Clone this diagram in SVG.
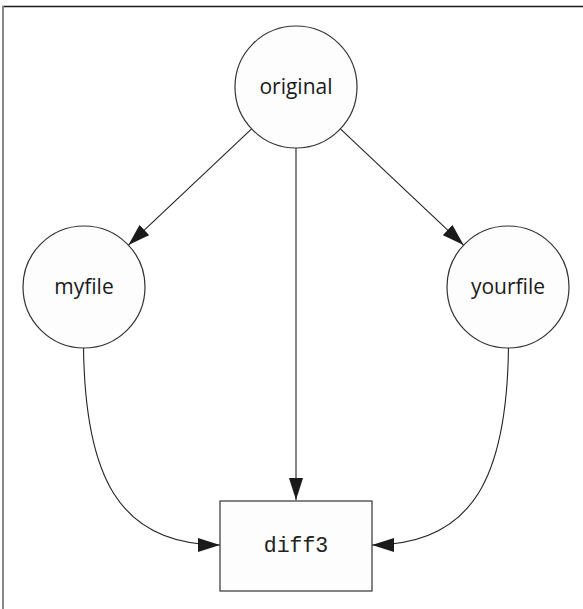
<svg xmlns="http://www.w3.org/2000/svg" width="583" height="609" viewBox="0 0 583 609">
<style>
.node{fill:#fdfdfd;stroke:#333;stroke-width:1.2}
.lbl{font-family:"Open Sans","DejaVu Sans",sans-serif;font-size:21px;fill:#1a1a1a;text-anchor:middle}
.mono{font-family:"Liberation Mono","Courier New",monospace;font-size:21.5px;fill:#222;text-anchor:middle}
.edge{fill:none;stroke:#222;stroke-width:1.1}
</style>
<defs>
<marker id="arr" markerWidth="22" markerHeight="14" refX="22" refY="7" orient="auto" markerUnits="userSpaceOnUse">
<path d="M0,0 L22,7 L0,14 Z" fill="#1a1a1a"/>
</marker>
</defs>
<rect x="0" y="0" width="583" height="609" fill="#fff"/>
<line x1="2" y1="6.5" x2="583" y2="6.5" stroke="#1a1a1a" stroke-width="1.5"/>
<line x1="3" y1="6" x2="3" y2="609" stroke="#888" stroke-width="2"/>
<g id="connectors">
<line class="edge" x1="251.6" y1="128.9" x2="128.4" y2="245.1" marker-end="url(#arr)"/>
<line class="edge" x1="340.4" y1="128.9" x2="463.6" y2="245.1" marker-end="url(#arr)"/>
<line class="edge" x1="296" y1="148" x2="296" y2="500" marker-end="url(#arr)"/>
<path class="edge" d="M83.5,347 C85,475 118,545 220,545" marker-end="url(#arr)"/>
<path class="edge" d="M508.5,347 C507,475 474,545 372,545" marker-end="url(#arr)"/>
</g>
<g id="original">
<circle class="node" cx="296" cy="87" r="61"/>
<text class="lbl" x="296" y="94">original</text>
</g>
<g id="myfile">
<circle class="node" cx="84" cy="287" r="61"/>
<text class="lbl" x="84" y="294">myfile</text>
</g>
<g id="yourfile">
<circle class="node" cx="508" cy="287" r="61"/>
<text class="lbl" x="508" y="294">yourfile</text>
</g>
<g id="diff3">
<rect class="node" x="220" y="501" width="152" height="90"/>
<text class="mono" x="296" y="552">diff3</text>
</g>
</svg>
